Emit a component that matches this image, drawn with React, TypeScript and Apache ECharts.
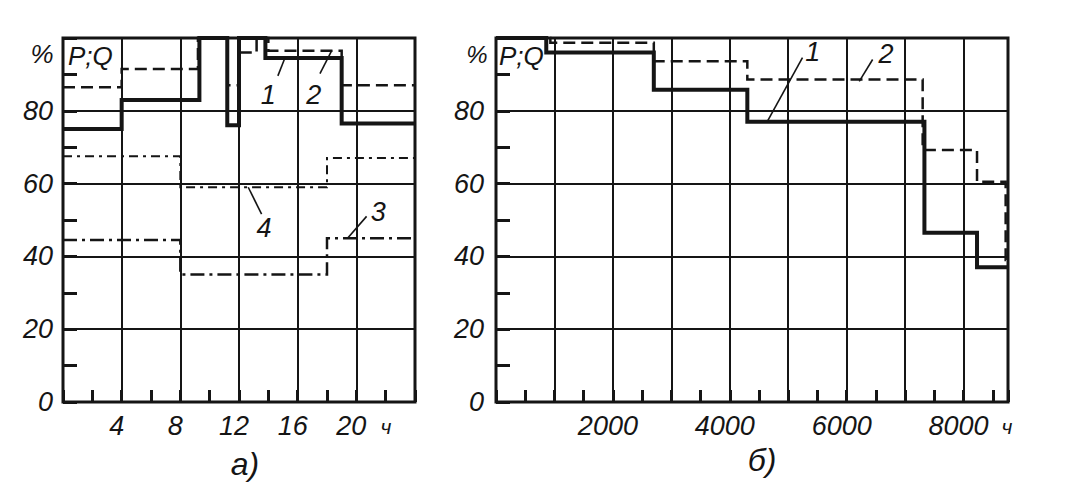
import { useEffect, useRef } from "react";
import * as echarts from "echarts";

// ---- Chart а): daily load schedule, hours 0..24 ----
const dayXLabels = [4, 8, 12, 16, 20];
const dayP_t = [0, 4, 9.3, 11.2, 12, 13.8, 19, 24];
const dayP_v = [75, 83, 100, 76, 100, 94.5, 76.5, 76.5];
const dayQ_t = [0, 4, 9.2, 11.2, 12, 13.2, 14, 19, 24];
const dayQ_v = [86.5, 91.5, 100, 87, 96, 100, 96.5, 87, 87];
const day3_t = [0, 8, 18, 24];
const day3_v = [44.5, 35, 45, 45];
const day4_t = [0, 8, 18, 24];
const day4_v = [67.5, 59, 67, 67];

// ---- Chart б): annual duration curve, hours 0..8760 ----
const yearXLabels = [2000, 4000, 6000, 8000];
const yearP_t = [0, 860, 2700, 4300, 7330, 8230, 8760];
const yearP_v = [100, 96, 85.8, 77, 46.5, 37, 37];
const yearQ_t = [0, 930, 2700, 4300, 7300, 8230, 8720, 8760];
const yearQ_v = [100, 98.7, 93.6, 88.6, 69.2, 60.5, 39, 39];

const yLabels = [0, 20, 40, 60, 80];

// curve annotations (number, label position, leader line ends) in data units
const dayNotes = [
  { text: "1", at: [14.0, 84.3], lead: [[15.13, 94.5], [14.65, 89.6]] },
  { text: "2", at: [17.1, 84.3], lead: [[18.33, 96.6], [17.52, 90.2]] },
  { text: "3", at: [21.5, 52.1], lead: [[20.7, 51], [19.4, 45]] },
  { text: "4", at: [13.7, 47.7], lead: [[12.63, 59], [13.54, 51.6]] },
];
const yearNotes = [
  { text: "1", at: [5420, 96.2], lead: [[5244, 94.6], [4643, 77.1]] },
  { text: "2", at: [6672, 95.7], lead: [[6444, 94.1], [6215, 88.1]] },
];

const ink = "#151515";
const fam = '"Liberation Sans", "DejaVu Sans", Arial, sans-serif';
const labelStyle = { color: ink, fontSize: 27, fontStyle: "italic", fontFamily: fam };

function mainX(grid: number, max: number, interval: number, labels: number[]) {
  return {
    gridIndex: grid,
    type: "value",
    min: 0,
    max,
    interval,
    axisLine: { show: false },
    axisTick: { show: false },
    splitLine: { show: true, lineStyle: { color: ink, width: 2 } },
    axisLabel: {
      ...labelStyle,
      margin: 10,
      padding: [0, 10, 0, 0],
      formatter: (v: number) => (labels.includes(v) ? String(v) : ""),
    },
  };
}
// secondary axis only for the short ticks: shifted into the plot, ticks pointing back out to the frame
function tickX(grid: number, max: number, interval: number) {
  return {
    gridIndex: grid,
    type: "value",
    position: "bottom",
    offset: -12,
    min: 0,
    max,
    interval,
    axisLine: { show: false },
    axisTick: { show: true, inside: false, length: 12, lineStyle: { color: ink, width: 3 } },
    splitLine: { show: false },
    axisLabel: { show: false },
  };
}
function mainY(grid: number, margin: number) {
  return {
    gridIndex: grid,
    type: "value",
    min: 0,
    max: 100,
    interval: 20,
    axisLine: { show: false },
    axisTick: { show: false },
    splitLine: { show: true, lineStyle: { color: ink, width: 2 } },
    axisLabel: {
      ...labelStyle,
      margin,
      formatter: (v: number) => (yLabels.includes(v) ? String(v) : ""),
    },
  };
}
function tickY(grid: number) {
  return {
    gridIndex: grid,
    type: "value",
    position: "left",
    offset: -14,
    min: 0,
    max: 100,
    interval: 10,
    axisLine: { show: false },
    axisTick: { show: true, inside: false, length: 14, lineStyle: { color: ink, width: 3 } },
    splitLine: { show: false },
    axisLabel: { show: false },
  };
}

function step(axis: number, t: number[], v: number[], lineStyle: any) {
  return {
    type: "line",
    xAxisIndex: axis,
    yAxisIndex: axis,
    step: "end",
    symbol: "none",
    clip: false,
    silent: true,
    data: t.map((x, i) => [x, v[i]]),
    lineStyle: { color: ink, cap: "butt", join: "miter", ...lineStyle },
  };
}

function leaders(axis: number, list: typeof dayNotes) {
  return list.map((n) => ({
    type: "line",
    xAxisIndex: axis,
    yAxisIndex: axis,
    symbol: "none",
    clip: false,
    silent: true,
    data: n.lead,
    lineStyle: { color: ink, width: 1.6 },
  }));
}

export default function App() {
  const ref = useRef<HTMLDivElement>(null);
  useEffect(() => {
    if (!ref.current) return;
    const chart = echarts.init(ref.current, null, { renderer: "svg" });
    const txt = (text: string, x: number, y: number, size: number, align = "center") => ({
      type: "text",
      x,
      y,
      silent: true,
      style: {
        text,
        fill: ink,
        font: `italic ${size}px ${fam}`,
        align,
        verticalAlign: "middle",
      },
    });
    chart.setOption({
      animation: false,
      backgroundColor: "#ffffff",
      grid: [
        { left: 63, top: 38, width: 352, height: 364, show: true, borderColor: ink, borderWidth: 3, backgroundColor: "transparent" },
        { left: 496, top: 38, width: 512, height: 364, show: true, borderColor: ink, borderWidth: 3, backgroundColor: "transparent" },
      ],
      xAxis: [
        mainX(0, 24, 4, dayXLabels),
        tickX(0, 24, 2),
        mainX(1, 8760, 1000, yearXLabels),
        tickX(1, 8760, 500),
      ],
      yAxis: [mainY(0, 10), tickY(0), mainY(1, 12), tickY(1)],
      series: [
        step(0, day4_t, day4_v, { width: 2, type: [9, 5, 3, 5] }),
        step(0, day3_t, day3_v, { width: 2.5, type: [14, 5, 3, 5] }),
        step(0, dayQ_t, dayQ_v, { width: 2.5, type: [12, 6] }),
        step(0, dayP_t, dayP_v, { width: 4, type: "solid" }),
        step(2, yearQ_t, yearQ_v, { width: 2.5, type: [12, 6] }),
        step(2, yearP_t, yearP_v, { width: 4, type: "solid" }),
        ...leaders(0, dayNotes),
        ...leaders(2, yearNotes),
      ],
    });
    const noteText = (grid: number, list: typeof dayNotes) =>
      list.map((n) => {
        const p = chart.convertToPixel({ gridIndex: grid }, n.at) as number[];
        return txt(n.text, p[0], p[1], 27);
      });
    chart.setOption({
      graphic: [
        txt("%", 42, 54, 26),
        txt("P;Q", 68, 56, 26, "left"),
        txt("%", 477, 54, 24),
        txt("P;Q", 499, 56, 26, "left"),
        txt("ч", 386, 426, 21),
        txt("ч", 1007, 426, 21),
        txt("а)", 245, 464, 32),
        txt("б)", 762, 460, 32),
        ...noteText(0, dayNotes),
        ...noteText(1, yearNotes),
      ],
    });
    return () => chart.dispose();
  }, []);
  return (
    <div
      ref={ref}
      style={{ position: "fixed", left: 0, top: 0, width: 1077, height: 482, background: "#fff" }}
    />
  );
}
